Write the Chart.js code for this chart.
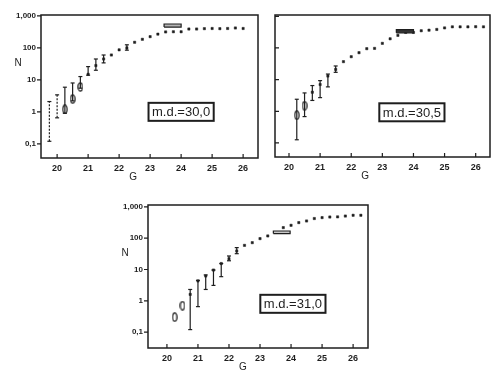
<!DOCTYPE html>
<html>
<head>
<meta charset="utf-8">
<script src="https://cdn.jsdelivr.net/npm/chart.js@4.4.0/dist/chart.umd.min.js"></script>
<style>
    body { margin: 0; background: #fff; width: 500px; height: 378px; position: relative; overflow: hidden; }
    canvas { position: absolute; }
</style>
</head>
<body>
<canvas id="panel1" width="265" height="190" style="left:0;top:0"></canvas>
<canvas id="panel2" width="238" height="190" style="left:262px;top:0"></canvas>
<canvas id="panel3" width="280" height="188" style="left:100px;top:190px"></canvas>
<script>
const xTicks = [20, 21, 22, 23, 24, 25, 26];
const yTicks = [0.1, 1, 10, 100, 1000];
const yTickLabels = ['0,1', '1', '10', '100', '1,000'];

// panel 1, m.d. = 30,0
const barG1 = [19.75, 20.0, 20.25, 20.5, 20.75, 21.0, 21.25, 21.5, 22.25];
const barLo1 = [0.12, 0.65, 0.9, 2.2, 5.5, 14, 20, 34, 85];
const barHi1 = [2.1, 3.4, 5.9, 8, 12.7, 26, 45, 60, 125];
const openG1 = [20.25, 20.5, 20.75];
const openN1 = [1.2, 2.5, 6];
const dotG1 = [21.0, 21.25, 21.5, 21.75, 22.0, 22.25, 22.5, 22.75, 23.0, 23.25, 23.5, 23.75, 24.0,
    24.25, 24.5, 24.75, 25.0, 25.25, 25.5, 25.75, 26.0];
const dotN1 = [15, 28, 45, 60, 87, 100, 150, 186, 225, 270, 316, 320, 320,
    390, 390, 400, 405, 400, 405, 420, 405];
const boxG1 = [23.45, 24.0];
const boxN1 = [450, 560];

// panel 2, m.d. = 30,5
const barG2 = [20.25, 20.5, 20.75, 21.0, 21.25, 21.5];
const barLo2 = [0.126, 0.68, 2.2, 2.7, 5.9, 17];
const barHi2 = [2.4, 3.8, 6.5, 9.3, 15, 27];
const openG2 = [20.25, 20.5];
const openN2 = [0.75, 1.5];
const dotG2 = [20.75, 21.0, 21.25, 21.5, 21.75, 22.0, 22.25, 22.5, 22.75, 23.0, 23.25, 23.5, 23.75, 24.0,
    24.25, 24.5, 24.75, 25.0, 25.25, 25.5, 25.75, 26.0, 26.25];
const dotN2 = [4, 7, 13, 21, 37, 53, 71, 95, 97, 140, 195, 250, 310, 310,
    350, 365, 385, 430, 465, 465, 465, 470, 465];
const boxG2 = [23.45, 24.0];
const boxN2 = [300, 380];

// panel 3, m.d. = 31,0
const barG3 = [20.75, 21.0, 21.25, 21.5, 21.75, 22.0, 22.25];
const barLo3 = [0.12, 0.65, 2.3, 3.1, 5.9, 19, 32];
const barHi3 = [2.3, 4.5, 6.7, 9.6, 15.5, 27, 50];
const openG3 = [20.25, 20.5];
const openN3 = [0.3, 0.7];
const dotG3 = [20.75, 21.0, 21.25, 21.5, 21.75, 22.0, 22.25, 22.5, 22.75, 23.0, 23.25, 23.75, 24.0,
    24.25, 24.5, 24.75, 25.0, 25.25, 25.5, 25.75, 26.0, 26.25];
const dotN3 = [1.6, 4.3, 6.2, 9.6, 15.5, 22, 39, 59, 72, 97, 118, 218, 258,
    315, 355, 425, 455, 475, 480, 510, 540, 540];
const boxG3 = [23.43, 23.97];
const boxN3 = [140, 170];

const INK = '#1e1e1e';

// open "0" marker
const openMark = document.createElement('canvas');
openMark.width = 6;
openMark.height = 10;
(function () {
    const c = openMark.getContext('2d');
    c.strokeStyle = INK;
    c.lineWidth = 1.2;
    c.beginPath();
    c.ellipse(3, 5, 2.1, 4.1, 0, 0, Math.PI * 2);
    c.stroke();
})();

function pairs(xs, ys) {
    return xs.map((x, i) => ({ x: x, y: ys[i] }));
}

function barPoints(g, lo, hi) {
    const out = [];
    g.forEach((x, i) => {
        out.push({ x: x, y: lo[i] }, { x: x, y: hi[i] }, { x: x, y: null });
    });
    return out;
}

function boxPoints(g, n) {
    return [
        { x: g[0], y: n[0] }, { x: g[1], y: n[0] },
        { x: g[1], y: n[1] }, { x: g[0], y: n[1] }, { x: g[0], y: n[0] }
    ];
}

const decorPlugin = {
    id: 'decor',
    afterDraw(chart, args, opts) {
        const ctx = chart.ctx;
        const a = chart.chartArea;
        const xs = chart.scales.x;
        const ys = chart.scales.y;
        ctx.save();
        ctx.strokeStyle = INK;
        ctx.lineWidth = 1.5;
        ctx.strokeRect(a.left, a.top, a.right - a.left, a.bottom - a.top);

        ctx.lineWidth = 1.2;
        ctx.beginPath();
        xTicks.forEach(v => {
            const px = xs.getPixelForValue(v);
            ctx.moveTo(px, a.bottom);
            ctx.lineTo(px, a.bottom - 4);
        });
        const dir = opts.yInside ? 1 : -1;
        yTicks.forEach(v => {
            const py = ys.getPixelForValue(v);
            ctx.moveTo(a.left, py);
            ctx.lineTo(a.left + dir * 4, py);
        });
        ctx.stroke();

        ctx.fillStyle = INK;
        ctx.textAlign = 'center';
        ctx.textBaseline = 'middle';
        ctx.font = '10px "Liberation Sans", Arial, sans-serif';
        ctx.fillText('G', xs.getPixelForValue(22.45), a.bottom + 19);
        if (opts.showN) {
            ctx.fillText('N', a.left - 23, ys.getPixelForValue(32));
        }

        // m.d. label
        const cx = xs.getPixelForValue(opts.labelG);
        const cy = ys.getPixelForValue(opts.labelN);
        ctx.font = '13px "Liberation Sans", Arial, sans-serif';
        const w = ctx.measureText(opts.label).width + 7;
        ctx.lineWidth = 2;
        ctx.strokeRect(cx - w / 2, cy - 9, w, 18);
        ctx.fillText(opts.label, cx, cy + 1);
        ctx.restore();
    }
};

function makePanel(id, geo, d) {
    const canvas = document.getElementById(id);
    const datasets = [
        {
            type: 'line',
            data: d.box,
            borderColor: INK,
            borderWidth: 1.2,
            backgroundColor: d.boxFill,
            fill: 'shape',
            pointRadius: 0,
            tension: 0
        },
        {
            type: 'line',
            data: barPoints(d.barG, d.lo, d.hi),
            borderColor: INK,
            borderWidth: 1.2,
            pointRadius: 0,
            spanGaps: false,
            segment: {
                borderDash: c => (d.dotted && c.p0.parsed.x < 20.1 ? [2, 1.5] : undefined)
            }
        },
        {
            data: pairs(d.barG, d.lo).concat(pairs(d.barG, d.hi)),
            pointStyle: 'line',
            pointRadius: 2,
            borderColor: INK,
            borderWidth: 1.2
        },
        {
            data: pairs(d.dotG, d.dotN),
            pointStyle: 'rect',
            pointRadius: 1.6,
            backgroundColor: INK,
            borderColor: INK,
            borderWidth: 0.5
        },
        {
            data: pairs(d.openG, d.openN),
            pointStyle: openMark,
            pointRadius: 4
        }
    ];

    return new Chart(canvas, {
        type: 'scatter',
        data: { datasets: datasets },
        options: {
            responsive: false,
            animation: false,
            events: [],
            layout: {
                padding: { top: geo.top, right: canvas.width - geo.right, left: 0, bottom: 0 }
            },
            plugins: {
                legend: { display: false },
                tooltip: { enabled: false },
                decor: {
                    label: d.label,
                    labelG: d.labelG,
                    labelN: d.labelN,
                    showN: d.showY,
                    yInside: !d.showY
                }
            },
            scales: {
                x: {
                    type: 'linear',
                    min: geo.xMin,
                    max: geo.xMax,
                    afterBuildTicks: s => { s.ticks = xTicks.map(v => ({ value: v })); },
                    afterFit: s => { s.height = canvas.height - geo.bottom; },
                    grid: { display: false, drawTicks: false },
                    border: { display: false },
                    ticks: {
                        color: INK,
                        padding: 5,
                        maxRotation: 0,
                        font: { family: '"Liberation Sans", Arial, sans-serif', size: 9, weight: 'bold' }
                    }
                },
                y: {
                    type: 'logarithmic',
                    min: geo.yMin,
                    max: geo.yMax,
                    afterBuildTicks: s => { s.ticks = yTicks.map(v => ({ value: v })); },
                    afterFit: s => { s.width = geo.left; },
                    grid: { display: false, drawTicks: false },
                    border: { display: false },
                    ticks: {
                        display: d.showY,
                        color: INK,
                        padding: 5,
                        font: { family: '"Liberation Sans", Arial, sans-serif', size: 8, weight: 'bold' },
                        callback: v => yTickLabels[yTicks.indexOf(v)]
                    }
                }
            }
        },
        plugins: [decorPlugin]
    });
}

makePanel('panel1',
    { left: 41, top: 15, right: 258, bottom: 158, xMin: 19.48, xMax: 26.48, yMin: 0.036, yMax: 1070 },
    {
        barG: barG1, lo: barLo1, hi: barHi1, openG: openG1, openN: openN1,
        dotG: dotG1, dotN: dotN1, box: boxPoints(boxG1, boxN1), boxFill: '#b4b4b4',
        dotted: true, showY: true, label: 'm.d.=30,0', labelG: 24.0, labelN: 1.0
    });

makePanel('panel2',
    { left: 13, top: 15, right: 228, bottom: 157, xMin: 19.55, xMax: 26.46, yMin: 0.036, yMax: 1100 },
    {
        barG: barG2, lo: barLo2, hi: barHi2, openG: openG2, openN: openN2,
        dotG: dotG2, dotN: dotN2, box: boxPoints(boxG2, boxN2), boxFill: '#333333',
        dotted: false, showY: false, label: 'm.d.=30,5', labelG: 23.95, labelN: 0.93
    });

makePanel('panel3',
    { left: 48, top: 15, right: 268, bottom: 158, xMin: 19.39, xMax: 26.48, yMin: 0.031, yMax: 1150 },
    {
        barG: barG3, lo: barLo3, hi: barHi3, openG: openG3, openN: openN3,
        dotG: dotG3, dotN: dotN3, box: boxPoints(boxG3, boxN3), boxFill: '#c8c8c8',
        dotted: false, showY: true, label: 'm.d.=31,0', labelG: 24.06, labelN: 0.8
    });
</script>
</body>
</html>
